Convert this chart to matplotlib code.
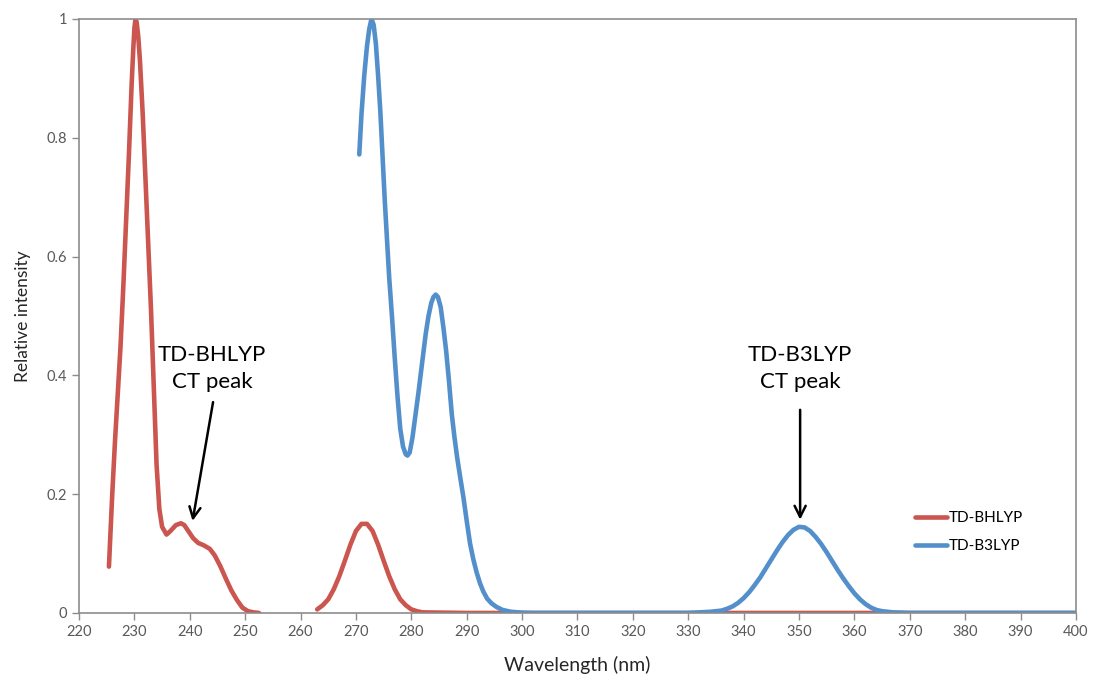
import numpy as np
import matplotlib
matplotlib.use("Agg")
import matplotlib.pyplot as plt

# values
bhlyp_nm = [225.4, 226.0, 226.5, 227.0, 227.5, 228.0, 228.5, 229.0, 229.5, 229.8,
            230.0, 230.2, 230.4, 230.7, 231.0, 231.5, 232.0, 232.5, 233.0, 233.5,
            234.0, 234.5, 235.0, 235.8, 236.5, 237.5, 238.4, 239.0, 239.8, 240.6,
            241.5, 242.5, 243.6, 244.5, 245.5, 246.5, 247.5, 248.5, 249.5, 250.5,
            251.5, 252.5, np.nan,
            263, 264, 265, 266, 267, 268, 269, 270, 271, 272, 273, 274, 275, 276,
            277, 278, 279, 280, 281, 282, 290, 300, 350, 400]
bhlyp_int = [0.078, 0.20, 0.29, 0.37, 0.45, 0.55, 0.66, 0.77, 0.89, 0.95,
             0.985, 1.0, 0.995, 0.97, 0.93, 0.84, 0.73, 0.62, 0.51, 0.38,
             0.25, 0.175, 0.145, 0.132, 0.138, 0.148, 0.151, 0.148, 0.137, 0.126,
             0.118, 0.114, 0.108, 0.097, 0.079, 0.058, 0.038, 0.022, 0.009, 0.003,
             0.001, 0.0, np.nan,
             0.006, 0.013, 0.023, 0.040, 0.062, 0.088, 0.115, 0.138, 0.150, 0.150,
             0.138, 0.115, 0.088, 0.062, 0.040, 0.023, 0.013, 0.006, 0.003, 0.001,
             0.0, 0.0, 0.0, 0.0]

b3lyp_nm = [270.6, 271.0, 271.5, 272.0, 272.4, 272.8, 273.2, 273.6, 274.0, 274.4,
            274.8, 275.2, 275.6, 276.0, 276.5, 277.0, 277.5, 278.0, 278.5, 279.0,
            279.3, 279.7, 280.2, 280.7, 281.3, 282.0, 282.6, 283.1, 283.6, 284.0,
            284.4, 284.8, 285.3, 285.8, 286.3, 286.8, 287.3, 287.8, 288.3, 288.8,
            289.4, 290.0, 290.6, 291.2, 291.8, 292.4, 293.0, 293.7, 294.5, 295.4,
            296.5, 298.0, 300.0, 302.0, 330, 332, 334, 336, 337, 338, 339, 340,
            341, 342, 343, 344, 345, 346, 347, 348, 349, 350, 351, 352, 353, 354,
            355, 356, 357, 358, 359, 360, 361, 362, 363, 364, 365, 367, 370, 400]
b3lyp_int = [0.772, 0.840, 0.905, 0.955, 0.983, 1.0, 0.990, 0.958, 0.905, 0.845,
             0.770, 0.695, 0.630, 0.565, 0.500, 0.430, 0.365, 0.310, 0.280, 0.267,
             0.265, 0.270, 0.295, 0.330, 0.372, 0.425, 0.470, 0.500, 0.522, 0.532,
             0.536, 0.532, 0.515, 0.480, 0.440, 0.390, 0.335, 0.295, 0.260, 0.230,
             0.195, 0.155, 0.117, 0.090, 0.068, 0.050, 0.036, 0.024, 0.016, 0.010,
             0.005, 0.002, 0.0005, 0.0, 0.0, 0.001, 0.002, 0.004, 0.007, 0.011,
             0.017, 0.025, 0.035, 0.047, 0.060, 0.075, 0.090, 0.105, 0.119, 0.131,
             0.140, 0.145, 0.144, 0.138, 0.128, 0.116, 0.102, 0.087, 0.072, 0.058,
             0.045, 0.033, 0.023, 0.015, 0.009, 0.005, 0.003, 0.001, 0.0, 0.0]

x_ticks = list(range(220, 401, 10))
y_ticks = [0, 0.2, 0.4, 0.6, 0.8, 1]
y_labels = ["0", "0.2", "0.4", "0.6", "0.8", "1"]

plt.rcParams["font.family"] = ["Lato", "DejaVu Sans"]

fig = plt.figure(figsize=(10.93, 6.81), dpi=100)
ax = fig.add_axes([0.0723, 0.0999, 0.9121, 0.8722])

red = "#CB554F"
blue = "#5390CB"
ax.plot(bhlyp_nm, bhlyp_int, color=red, lw=3.3, label="TD-BHLYP",
        solid_capstyle="round", solid_joinstyle="round")
ax.plot(b3lyp_nm, b3lyp_int, color=blue, lw=3.3, label="TD-B3LYP",
        solid_capstyle="round", solid_joinstyle="round")

ax.set_xlim(220, 400)
ax.set_ylim(0, 1)
ax.set_xticks(x_ticks)
ax.set_yticks(y_ticks)
ax.set_yticklabels(y_labels)
for s in ax.spines.values():
    s.set_color("#8c8c8c")
    s.set_linewidth(1.2)
ax.tick_params(colors="#8c8c8c", labelcolor="#595959", labelsize=10.5,
               length=5, width=1.0, direction="out")
ax.set_xlabel("Wavelength (nm)", fontsize=14, color="#262626", labelpad=12)
ax.set_ylabel("Relative intensity", fontsize=12.5, color="#262626", labelpad=11)

# annotation labels and arrows
ax.text(244.0, 0.372, "TD-BHLYP\nCT peak", ha="center", va="bottom",
        fontsize=16, linespacing=1.45)
ax.text(350.2, 0.372, "TD-B3LYP\nCT peak", ha="center", va="bottom",
        fontsize=16, linespacing=1.45)
arrow = dict(arrowstyle="->", color="black", lw=1.8, mutation_scale=20,
             shrinkA=0, shrinkB=0)
ax.annotate("", xy=(240.5, 0.155), xytext=(244.2, 0.355), arrowprops=arrow)
ax.annotate("", xy=(350.2, 0.157), xytext=(350.2, 0.342), arrowprops=arrow)

ax.legend(loc="center left", bbox_to_anchor=(0.8385, 0.136), frameon=False,
          fontsize=11, handlelength=2.1, handletextpad=0.1, labelspacing=0.9,
          borderpad=0, borderaxespad=0)

fig.savefig("out.png", dpi=100)
